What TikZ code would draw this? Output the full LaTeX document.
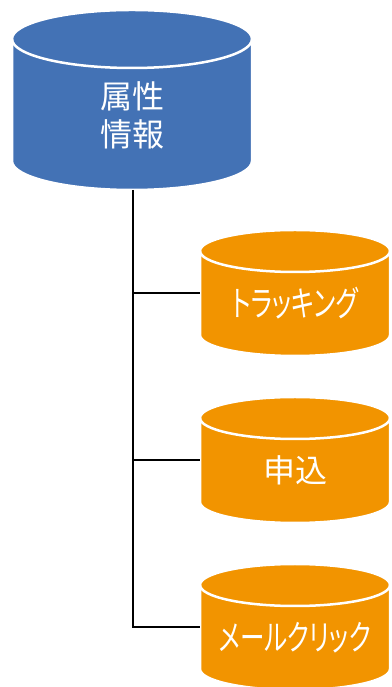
\documentclass[tikz,border=0pt]{standalone}
\usepackage{fontspec}
\newfontfamily\jpfont[RawFeature={+palt}]{Noto Sans CJK JP}
\newfontfamily\jpnarrow[RawFeature={+palt}, FakeStretch=0.70]{Noto Sans CJK JP}
\definecolor{dbblue}{RGB}{67,114,181}
\definecolor{dborange}{RGB}{242,148,0}
\tikzset{
  cylbody/.style={line width=2.5pt, draw=white},
  cyllabel/.style={text=white, font=\jpfont\fontsize{32}{38}\selectfont, align=center, inner sep=0pt},
  kanalabel/.style={cyllabel, font=\jpnarrow\fontsize{35}{38}\selectfont},
  cylbox/.style={inner sep=0pt, outer sep=0pt},
  link/.style={line width=2.7pt, draw=black}
}
% #1 colour, #2 cx, #3 top-ellipse centre y, #4 bottom-ellipse centre y, #5 rx, #6 ry
\newcommand\dbcylinder[6]{%
  \path[cylbody, fill=#1] (#2-#5,#3) -- (#2-#5,#4)
    arc[start angle=180, end angle=360, x radius=#5, y radius=#6]
    -- (#2+#5,#3)
    arc[start angle=0, end angle=180, x radius=#5, y radius=#6] -- cycle;
  \draw[cylbody] (#2-#5,#3) arc[start angle=180, end angle=360, x radius=#5, y radius=#6];
}
\begin{document}
\begin{tikzpicture}[x=1pt, y=1pt]
\useasboundingbox (0,0) rectangle (391,687);
% blue database
\dbcylinder{dbblue}{132}{648}{526}{120}{29}
\node[cylbox, minimum width=240pt, minimum height=180pt] (attr) at (132,587) {};
\node[cyllabel] (attrlabel) at (132,572) {属性\\情報};
% orange databases
\dbcylinder{dborange}{295}{436}{352}{95}{21}
\node[cylbox, minimum width=190pt, minimum height=84pt] (track) at (295,394) {};
\node[kanalabel] (tracklabel) at (295,383.5) {トラッキング};
\dbcylinder{dborange}{295}{269}{185}{95}{21}
\node[cylbox, minimum width=190pt, minimum height=84pt] (apply) at (295,227) {};
\node[cyllabel] (applylabel) at (295,216.5) {申込};
\dbcylinder{dborange}{295}{102}{18}{95}{21}
\node[cylbox, minimum width=190pt, minimum height=84pt] (mail) at (295,60) {};
\node[kanalabel] (maillabel) at (295,49.5) {メールクリック};
% connectors
\coordinate (trunk) at ([xshift=1pt]attr.south);
\draw[link] (trunk) |- (mail.west);
\draw[link] (trunk |- track.west) -- (track.west);
\draw[link] (trunk |- apply.west) -- (apply.west);
\end{tikzpicture}
\end{document}
